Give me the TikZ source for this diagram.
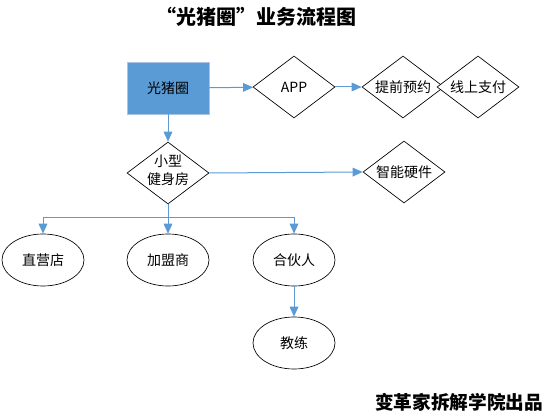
\documentclass[tikz,border=0pt]{standalone}
\usepackage{fontspec}
\setmainfont{Noto Sans CJK SC}
\usepackage{xcolor}
\definecolor{OfficeBlue}{HTML}{5B9BD5}
\definecolor{OfficeBlueEdge}{HTML}{A9C4E4}
\definecolor{FlowBlack}{HTML}{000000}
\definecolor{FlowWhite}{HTML}{ffffff}
\usepackage{tikz}
\usetikzlibrary{shapes.geometric, arrows.meta, positioning}
\tikzset{
    % main box, filled blue
    platform/.style={
        rectangle,
        draw=OfficeBlueEdge,
        fill=OfficeBlue,
        minimum width=61.5pt,
        minimum height=39pt,
        inner sep=0pt,
        align=center,
        font=\fontsize{10.5pt}{13pt}\selectfont
    },
    decision/.style={
        diamond,
        draw=FlowBlack,
        fill=FlowWhite,
        line width=0.5pt,
        aspect=1.32,
        minimum width=61.5pt,
        minimum height=46.5pt,
        inner sep=0pt,
        align=center,
        font=\fontsize{10.5pt}{13pt}\selectfont
    },
    terminal/.style={
        ellipse,
        draw=FlowBlack,
        fill=FlowWhite,
        line width=0.5pt,
        minimum width=61.5pt,
        minimum height=39pt,
        inner sep=0pt,
        align=center,
        font=\fontsize{10.5pt}{13pt}\selectfont
    },
    line style/.style={
        OfficeBlue,
        line width=0.75pt
    },
    arrow style/.style={
        -{Triangle[length=7.5pt,width=6.5pt]},
        OfficeBlue,
        line width=0.75pt
    }
}

\begin{document}
\begin{tikzpicture}[x=0.75pt, y=-0.75pt]
    \useasboundingbox (0,0) rectangle (552,420);
    \node[font=\fontsize{15pt}{18pt}\selectfont\bfseries] (title) at (256,17) {“光猪圈”业务流程图};

    \node[platform] (brand) at (168,88) {光猪圈};
    \node[decision] (app) at (294,87) {APP};
    \node[decision] (booking) at (403,87) {提前预约};
    \node[decision] (payment) at (478,87) {线上支付};
    \node[decision] (gym) at (168,173) {\smash{\raisebox{-2pt}{\begin{tabular}{@{}c@{}}小型\\[1pt]健身房\end{tabular}}}};
    \node[decision] (hardware) at (404,172) {智能硬件};

    \coordinate (split) at (168,217);
    \node[terminal] (store) at (43,260) {直营店};
    \node[terminal] (franchise) at (168,260) {加盟商};
    \node[terminal] (partner) at (294,260) {合伙人};
    \node[terminal] (coach) at (294,343) {教练};

    \node[font=\fontsize{14pt}{17pt}\selectfont\bfseries] (credit) at (459,402) {变革家拆解学院出品};

    \draw[arrow style] (brand) -- (app);
    \draw[arrow style] (app) -- (booking);
    \draw[arrow style] (brand) -- (gym);
    \draw[arrow style] (gym.east) -- (hardware.west);
    \draw[line style] (gym.south) -- (split);
    \draw[arrow style] (split) -| (store.north);
    \draw[arrow style] (split) -- (franchise.north);
    \draw[arrow style] (split) -| (partner.north);
    \draw[arrow style] (partner) -- (coach);
\end{tikzpicture}
\end{document}
